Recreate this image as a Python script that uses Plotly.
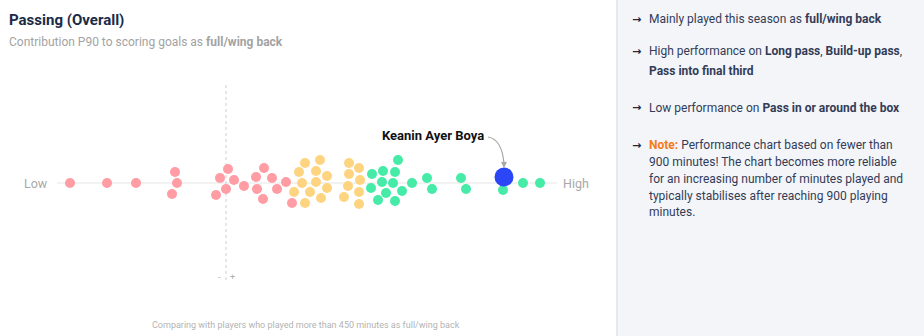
import plotly.graph_objects as go

# ---- data: performance score (x, std-units vs average) and swarm offset (y) ----
red_x = [-1.56, -1.19, -0.90, -0.51, -0.49, -0.54, -0.10, -0.06, 0.02, 0.08, 0.00, 0.18, 0.30, 0.38, 0.31, 0.37, 0.46, 0.51, 0.60, 0.66]
red_y = [0, 0, 0, 11, 0, -11, -12, 5, 14, 3, -6, -3, 6, 15, -6, -16, 5, -6, 1, -20]
yellow_x = [0.73, 0.79, 0.94, 0.90, 1.01, 0.76, 0.90, 1.01, 0.68, 0.84, 0.95, 0.79, 1.23, 1.33, 1.23, 1.34, 1.22, 1.33, 1.18, 1.33]
yellow_y = [11, 20, 23, 12, 7, 0, 1, -5, -9, -9, -15, -20, 20, 15, 9, 3, -3, -9, -14, -21]
green_x = [1.46, 1.45, 1.52, 1.57, 1.56, 1.60, 1.69, 1.72, 1.67, 1.69, 1.76, 1.86, 2.01, 2.06, 2.35, 2.40, 2.77, 2.97, 3.14]
green_y = [9, -5, -17, 12, 1, -10, 11, 23, 0, -18, -8, 0, 5, -6, 5, -6, -7, 0, 0]
player_name = "Keanin Ayer Boya"
player_x = [2.78]
player_y = [6]

title = "Passing (Overall)"
subtitle = "Contribution P90 to scoring goals as <b>full/wing back</b>"
footer = "Comparing with players who played more than 450 minutes as full/wing back"
notes = [
    ("Mainly played this season as <b>full/wing back</b>", 19, True),
    ("High performance on <b>Long pass</b>, <b>Build-up pass</b>,", 51, True),
    ("<b>Pass into final third</b>", 71, False),
    ("Low performance on <b>Pass in or around the box</b>", 108, True),
    ("<b><span style='color:#f47b20'>Note:</span></b> Performance chart based on fewer than", 145, True),
    ("900 minutes! The chart becomes more reliable", 162, False),
    ("for an increasing number of minutes played and", 179, False),
    ("typically stabilises after reaching 900 playing", 196, False),
    ("minutes.", 212, False),
]

W, H = 924, 336
X_RANGE = [-2.26, 6.98]   # 1 px = 0.01 units, 0 at px 226
Y_RANGE = [-153, 183]     # 1 px = 1 unit, 0 at px 183

def px(xp):
    return (xp - 226) / 100.0

def py(yp):
    return 183 - yp

FONT = "Roboto"
fig = go.Figure()

for xs, ys, col in [(red_x, red_y, "#ff9ca4"), (yellow_x, yellow_y, "#ffd480"), (green_x, green_y, "#46eba8")]:
    fig.add_trace(go.Scatter(x=xs, y=ys, mode="markers",
                             marker=dict(size=10, color=col, line=dict(width=0)),
                             hoverinfo="skip", showlegend=False))
fig.add_trace(go.Scatter(x=player_x, y=player_y, mode="markers",
                         marker=dict(size=19, color="#2a46f6", line=dict(width=0)),
                         hoverinfo="skip", showlegend=False))

shapes = [
    # right panel
    dict(type="rect", xref="paper", yref="paper", x0=617 / W, x1=1, y0=0, y1=1,
         fillcolor="#f4f5f9", line=dict(width=0), layer="below"),
    dict(type="line", xref="paper", yref="paper", x0=617 / W, x1=617 / W, y0=0, y1=1,
         line=dict(color="#dfe3ea", width=1.5), layer="below"),
    # baseline
    dict(type="line", xref="x", yref="y", x0=px(57), x1=px(557), y0=0, y1=0,
         line=dict(color="#e6e6e6", width=1.2), layer="below"),
    # average line
    dict(type="line", xref="x", yref="y", x0=0, x1=0, y0=py(85), y1=py(280),
         line=dict(color="#cfcfcf", width=1, dash="3px,3px"), layer="below"),
]
# curved annotation arrow from label to player dot
bx, by = player_x[0], player_y[0]
sx, sy = bx - 0.16, by + 40
ex, ey = bx, by + 13
cx, cy = bx - 0.02, by + 38
shapes.append(dict(type="path", xref="x", yref="y",
                   path=f"M {sx},{sy} Q {cx},{cy} {ex},{ey}",
                   line=dict(color="#a8a8a8", width=1.2)))

annotations = [
    dict(text=f"<b>{title}</b>", xref="paper", yref="paper", x=7 / W, y=1 - 20 / H,
         xanchor="left", yanchor="middle", showarrow=False,
         font=dict(family=FONT, size=15, color="#1b2a48")),
    dict(text=subtitle, xref="paper", yref="paper", x=7 / W, y=1 - 42 / H,
         xanchor="left", yanchor="middle", showarrow=False,
         font=dict(family=FONT, size=12, color="#a3a3a3")),
    dict(text="Low", xref="x", yref="y", x=px(50), y=0, xanchor="right", yanchor="middle",
         showarrow=False, font=dict(family=FONT, size=12.5, color="#a8a8a8")),
    dict(text="High", xref="x", yref="y", x=px(561), y=0, xanchor="left", yanchor="middle",
         showarrow=False, font=dict(family=FONT, size=12.5, color="#a8a8a8")),
    dict(text="-", xref="x", yref="y", x=px(219), y=py(277), xanchor="center", yanchor="middle",
         showarrow=False, font=dict(family=FONT, size=9, color="#b0b0b0")),
    dict(text="+", xref="x", yref="y", x=px(232), y=py(277), xanchor="center", yanchor="middle",
         showarrow=False, font=dict(family=FONT, size=9, color="#b0b0b0")),
    dict(text=footer, xref="paper", yref="paper", x=306 / W, y=1 - 325 / H,
         xanchor="center", yanchor="middle", showarrow=False,
         font=dict(family=FONT, size=9, color="#b3b3b3")),
    dict(text=f"<b>{player_name}</b>", xref="x", yref="y", x=sx - 0.02, y=sy + 2,
         xanchor="right", yanchor="middle", showarrow=False,
         font=dict(family=FONT, size=13, color="#111111")),
    dict(text="", xref="x", yref="y", x=bx, y=by + 9, ax=0, ay=-8,
         showarrow=True, arrowhead=2, arrowsize=1, arrowwidth=1.2, arrowcolor="#a8a8a8"),
]
for txt, yp, arrow in notes:
    if arrow:
        annotations.append(dict(text="<b>→</b>", xref="paper", yref="paper",
                                x=630 / W, y=1 - yp / H, xanchor="left", yanchor="middle",
                                showarrow=False, font=dict(family="DejaVu Sans", size=11, color="#1e2842")))
    annotations.append(dict(text=txt, xref="paper", yref="paper",
                            x=647 / W, y=1 - yp / H,
                            xanchor="left", yanchor="middle", showarrow=False,
                            font=dict(family=FONT, size=12, color="#323c57")))

fig.update_layout(
    width=W, height=H, margin=dict(l=0, r=0, t=0, b=0),
    paper_bgcolor="white", plot_bgcolor="rgba(0,0,0,0)",
    xaxis=dict(range=X_RANGE, domain=[0, 1], visible=False, fixedrange=True),
    yaxis=dict(range=Y_RANGE, domain=[0, 1], visible=False, fixedrange=True),
    shapes=shapes, annotations=annotations,
)
fig.write_html("out.html", config={"displayModeBar": False})
